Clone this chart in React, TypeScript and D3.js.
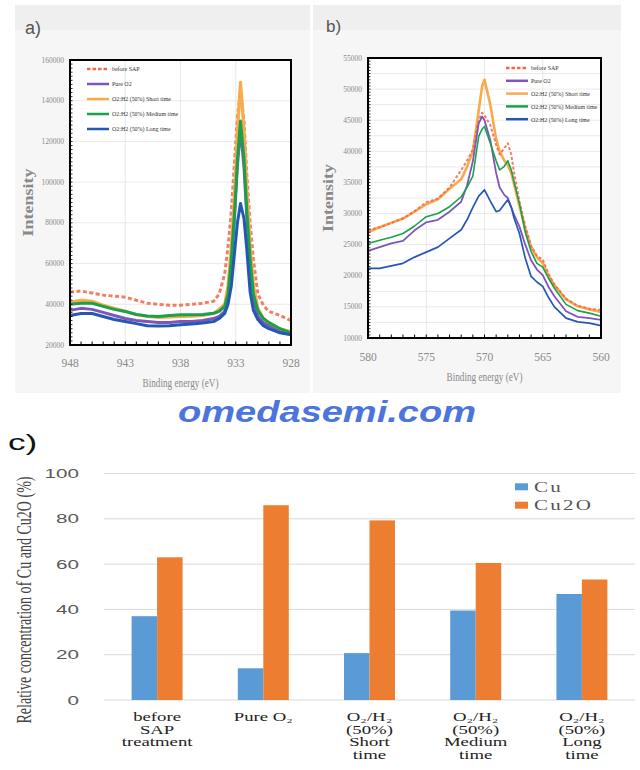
import React from "react";
import * as d3 from "d3";

// ---- panel a : Cu 2p3/2 region (values in thousands of counts) ----
const aEnergy = [948, 947, 946, 945, 944, 943, 942, 941, 940, 939, 938, 937, 936, 935, 934.5, 934, 933.7, 933.4, 933.1, 932.85, 932.57, 932.25, 932, 931.7, 931.4, 931, 930.5, 930, 929, 928];
const aBefore = [46, 46.5, 45.5, 44.5, 44, 43.5, 42, 40.5, 40, 39.5, 39.5, 40, 40.5, 41.5, 45, 55, 68, 86, 111, 132, 145, 130, 104, 80, 62, 45, 39.5, 36.5, 34.5, 32];
const aPureO2 = [37, 38, 37.5, 36, 34.5, 33, 32, 31.5, 31, 31, 31.5, 31.5, 32, 33, 34, 36.5, 43, 60, 84, 108, 126, 107, 83, 58, 42, 34, 31, 29.5, 27, 25.5];
const aShort = [41, 42, 41.5, 39.5, 38, 36.5, 35, 34, 33.5, 33.8, 34, 34.2, 34.5, 35.5, 37.5, 40, 49, 68, 95, 125, 149, 125, 96, 68, 49, 38, 33, 31, 28, 26.5];
const aMedium = [40, 40.5, 40.5, 39, 37.5, 36.5, 35, 34.2, 34, 34.5, 34.8, 34.8, 35, 35.6, 36.5, 39, 45, 62, 86, 111, 130, 111, 86, 62, 45, 37, 33, 31, 28, 26];
const aLong = [34.5, 35.5, 35.5, 34, 32.5, 31.5, 30.5, 29.5, 29.3, 29.5, 30, 30.3, 30.8, 31.5, 33, 35.5, 40, 49, 66, 80, 89.5, 82, 67, 46, 37, 32.5, 29.5, 28, 26, 25];
const aXTicks = [948, 943, 938, 933, 928];
const aYTicks = [20000, 40000, 60000, 80000, 100000, 120000, 140000, 160000];

// ---- panel b : Cu LMM region (values in thousands of counts) ----
const bEnergy = [580, 579, 578, 577, 576, 575, 574, 573, 572, 571.5, 571, 570.5, 570.2, 570, 569.5, 569, 568.7, 568.3, 568, 567.7, 567.5, 567, 566.5, 566, 565.5, 565, 564.5, 564, 563, 562, 561, 560];
const bBefore = [27.3, 27.8, 28.5, 29.2, 30.4, 31.8, 32.4, 34.2, 37, 38.5, 40.3, 45, 46.2, 45.8, 44.2, 41, 39.5, 40.5, 41.3, 39.5, 37, 32, 28, 24.8, 23.2, 22.6, 20.3, 18.6, 16.3, 15.2, 14.7, 14.5];
const bPureO2 = [24, 24.6, 25.2, 25.6, 27.3, 28.6, 29, 30.3, 31.9, 34.5, 38.4, 44.5, 45.6, 45, 41.8, 36.5, 34.2, 33, 32.5, 31, 30, 27.9, 25, 22.5, 21, 20.1, 18.2, 16.7, 14.3, 13.4, 13.2, 12.9];
const bShort = [27, 27.8, 28.5, 29.2, 30.3, 31.5, 32.3, 34, 35.5, 37.5, 40, 46.5, 50.5, 51.5, 47.5, 42, 40, 38.5, 37.8, 36.5, 35, 31.2, 27.5, 24.6, 23, 22, 20, 18.5, 16.2, 15.1, 14.6, 14.2];
const bMedium = [25.2, 25.7, 26.2, 26.8, 28, 29.5, 30, 31.1, 32.7, 34.2, 36, 42.4, 43.6, 44, 41.3, 38.5, 37, 37.6, 38.5, 37, 35.4, 31.6, 27, 23.9, 22, 21.4, 19.6, 18, 15.4, 14.4, 14, 13.5];
const bLong = [21.2, 21.2, 21.6, 22, 23, 23.8, 24.6, 26, 27.4, 29, 31, 32.8, 33.4, 33.8, 32, 30.3, 30.5, 31.5, 32.2, 31, 29.5, 26.8, 22.8, 19.9, 19, 18.3, 16.5, 15, 13.2, 12.6, 12.4, 12];
const bXTicks = [580, 575, 570, 565, 560];
const bYTicks = [10000, 15000, 20000, 25000, 30000, 35000, 40000, 45000, 50000, 55000];

const seriesNames = ["before SAP", "Pure O2", "O2:H2 (50%) Short time", "O2:H2 (50%) Medium time", "O2:H2 (50%) Long time"];
const seriesColors = ["#f2674a", "#7e55b9", "#f9aa4c", "#18a24c", "#2458b2"];

// ---- panel c : relative concentration ----
const categories = ["before SAP treatment", "Pure O2", "O2/H2 (50%) Short time", "O2/H2 (50%) Medium time", "O2/H2 (50%) Long time"];
const categoryLines = [
  ["before", "SAP", "treatment"],
  ["Pure O₂"],
  ["O₂/H₂", "(50%)", "Short", "time"],
  ["O₂/H₂", "(50%)", "Medium", "time"],
  ["O₂/H₂", "(50%)", "Long", "time"],
];
const components = ["Cu", "Cu2O"];
const cuValues = [37, 14, 20.7, 39.5, 46.8];
const cu2oValues = [63, 86, 79.3, 60.5, 53.2];
const cYTicks = [0, 20, 40, 60, 80, 100];
const barColors = ["#5b9bd5", "#ed7d31"];

const serif = "'Liberation Serif', 'Times New Roman', serif";
const sans = "'Liberation Sans', Arial, sans-serif";

type SpectrumProps = {
  frame: [number, number, number, number];
  plot: { left: number; right: number; top: number; bottom: number };
  tag: string;
  tagPos: [number, number, number];
  energy: number[];
  series: number[][];
  drawOrder: number[];
  xDomain: [number, number];
  yDomain: [number, number];
  xTicks: number[];
  yTicks: number[];
  yGrid: number[];
  xMinor: number[];
  yMinor: number[];
  widths: number[];
  dash: string;
  legend: { x: number; y: number; gap: number };
  xLabelDy: number;
  titleDy: number;
  yTitleX: number;
};

function Spectrum(p: SpectrumProps) {
  const { left, right, top, bottom } = p.plot;
  const x = d3.scaleLinear().domain(p.xDomain).range([left, right]);
  const y = d3.scaleLinear().domain(p.yDomain).range([bottom, top]);
  const line = (vals: number[]) =>
    d3
      .line<number>()
      .x((_, i) => x(p.energy[i]))
      .y((d) => y(d * 1000))(vals) || "";
  const [fx, fy, fw, fh] = p.frame;
  const cx = (left + right) / 2;
  const cy = (top + bottom) / 2;
  return (
    <g>
      <rect x={fx} y={fy} width={fw} height={fh} fill="#f6f6f6" />
      <rect x={fx} y={fy} width={fw} height={25} fill="#efefef" />
      <text x={p.tagPos[0]} y={p.tagPos[1]} fontFamily={sans} fontSize={p.tagPos[2]} fill="#555">
        {p.tag}
      </text>
      <rect x={left} y={top} width={right - left} height={bottom - top} fill="#fff" />
      {p.yGrid.map((v) => (
        <line key={"g" + v} x1={left} x2={right} y1={y(v)} y2={y(v)} stroke="#e4e4e4" strokeWidth={0.8} />
      ))}
      {p.xTicks.slice(1, -1).map((v) => (
        <line key={"v" + v} x1={x(v)} x2={x(v)} y1={top} y2={bottom} stroke="#e2e2e2" strokeWidth={0.8} />
      ))}
      {p.drawOrder.map((k) => (
        <path
          key={k}
          d={line(p.series[k])}
          fill="none"
          stroke={seriesColors[k]}
          strokeWidth={p.widths[k]}
          strokeDasharray={k === 0 ? p.dash : undefined}
          strokeLinejoin="round"
          opacity={k === 0 ? 0.85 : 1}
        />
      ))}
      {p.xMinor.map((v) => (
        <line key={"xm" + v} x1={x(v)} x2={x(v)} y1={bottom} y2={bottom - 3.5} stroke="#000" strokeWidth={1} />
      ))}
      {p.yMinor.map((v) => (
        <line key={"ym" + v} x1={left} x2={left + 2.5} y1={y(v)} y2={y(v)} stroke="#000" strokeWidth={0.8} />
      ))}
      <rect x={left} y={top} width={right - left} height={bottom - top} fill="none" stroke="#000" strokeWidth={2} />
      {p.yTicks.map((v) => (
        <text key={"yl" + v} x={left - 6} y={y(v) + 2.5} textAnchor="end" fontFamily={serif} fontSize={7.5} fill="#8a8a8a">
          {v}
        </text>
      ))}
      {p.xTicks.map((v) => (
        <text key={"xl" + v} x={x(v)} y={bottom + p.xLabelDy} textAnchor="middle" fontFamily={serif} fontSize={11.5} fill="#8a8a8a">
          {v}
        </text>
      ))}
      <text
        x={cx}
        y={bottom + p.titleDy}
        textAnchor="middle"
        fontFamily={serif}
        fontSize={11.5}
        fill="#8a8a8a"
        textLength={76}
        lengthAdjust="spacingAndGlyphs"
      >
        Binding energy (eV)
      </text>
      <text
        transform={`translate(${p.yTitleX},${cy}) rotate(-90)`}
        textAnchor="middle"
        fontFamily={serif}
        fontWeight="bold"
        fontSize={14}
        fill="#8a8a8a"
        textLength={68}
        lengthAdjust="spacingAndGlyphs"
      >
        Intensity
      </text>
      {seriesNames.map((n, k) => {
        const ly = p.legend.y + k * p.legend.gap;
        return (
          <g key={n}>
            <line
              x1={p.legend.x}
              x2={p.legend.x + 22}
              y1={ly}
              y2={ly}
              stroke={seriesColors[k]}
              strokeWidth={2.5}
              strokeDasharray={k === 0 ? "3.5 2" : undefined}
            />
            <text
              transform={`translate(${p.legend.x + 25},${ly + 2.3}) scale(0.85,1)`}
              fontFamily={serif}
              fontSize={7}
              fill="#333"
            >
              {n}
            </text>
          </g>
        );
      })}
    </g>
  );
}

function BarPanel() {
  const x = d3.scaleBand<string>().domain(categories).range([104, 635]).paddingInner(0.52).paddingOuter(0.26);
  const sub = d3.scaleBand<string>().domain(components).range([0, x.bandwidth()]);
  const y = d3.scaleLinear().domain([0, 100]).range([700, 473.5]);
  const values = [cuValues, cu2oValues];
  return (
    <g>
      <text transform="translate(8,450) scale(1.6,1)" fontFamily={sans} fontSize={22} fill="#111">
        c)
      </text>
      {cYTicks.map((v) => (
        <g key={v}>
          <line x1={104} x2={635} y1={y(v)} y2={y(v)} stroke="#d9d9d9" strokeWidth={1} />
          <text transform={`translate(79,${y(v) + 4.5}) scale(1.65,1)`} textAnchor="end" fontFamily={sans} fontSize={12.5} fill="#595959">
            {v}
          </text>
        </g>
      ))}
      {components.map((c, j) =>
        categories.map((cat, i) => (
          <rect
            key={c + cat}
            x={(x(cat) || 0) + (sub(c) || 0)}
            y={y(values[j][i])}
            width={sub.bandwidth()}
            height={y(0) - y(values[j][i])}
            fill={barColors[j]}
          />
        ))
      )}
      {categories.map((cat, i) => {
        const cx = (x(cat) || 0) + x.bandwidth() / 2;
        return categoryLines[i].map((ln, k) => (
          <text
            key={cat + k}
            transform={`translate(${cx},${721 + k * 12.7}) scale(1.5,1)`}
            textAnchor="middle"
            fontFamily={serif}
            fontSize={12.5}
            fill="#222"
          >
            {ln}
          </text>
        ));
      })}
      {components.map((c, j) => (
        <g key={c}>
          <rect x={515} y={483.3 + j * 18.4} width={13} height={7} fill={barColors[j]} />
          <text
            transform={`translate(534,${492 + j * 18.4}) scale(1.5,1)`}
            fontFamily={serif}
            fontSize={14}
            letterSpacing={1.5}
            fill="#555"
          >
            {c}
          </text>
        </g>
      ))}
      <text
        transform="translate(31,600) scale(1.45,1) rotate(-90)"
        textAnchor="middle"
        fontFamily={serif}
        fontSize={14.5}
        fill="#444"
        textLength={247}
        lengthAdjust="spacingAndGlyphs"
      >
        Relative concentration of Cu and Cu2O (%)
      </text>
    </g>
  );
}

export default function App() {
  return (
    <svg width={640} height={770} style={{ position: "absolute", left: 0, top: 0, background: "#fff" }}>
      <Spectrum
        frame={[15, 5, 295, 388]}
        plot={{ left: 70, right: 291, top: 60, bottom: 345 }}
        tag="a)"
        tagPos={[25, 34, 18]}
        energy={aEnergy}
        series={[aBefore, aPureO2, aShort, aMedium, aLong]}
        drawOrder={[0, 1, 2, 3, 4]}
        xDomain={[948, 928]}
        yDomain={[20000, 160000]}
        xTicks={aXTicks}
        yTicks={aYTicks}
        yGrid={aYTicks}
        xMinor={d3.range(928, 949, 1)}
        yMinor={d3.range(20000, 160001, 2000)}
        widths={[3, 3, 3.2, 3, 3]}
        dash="4 2.5"
        legend={{ x: 87, y: 69, gap: 15 }}
        xLabelDy={22}
        titleDy={42}
        yTitleX={33}
      />
      <Spectrum
        frame={[313, 5, 308, 388]}
        plot={{ left: 368, right: 601, top: 58, bottom: 338 }}
        tag="b)"
        tagPos={[326, 32, 17]}
        energy={bEnergy}
        series={[bBefore, bPureO2, bShort, bMedium, bLong]}
        drawOrder={[2, 0, 1, 3, 4]}
        xDomain={[580, 560]}
        yDomain={[10000, 55000]}
        xTicks={bXTicks}
        yTicks={bYTicks}
        yGrid={d3.range(12500, 55000, 2500)}
        xMinor={d3.range(560, 581, 1)}
        yMinor={d3.range(10000, 55001, 500)}
        widths={[2, 1.8, 2.6, 1.6, 1.7]}
        dash="3 2"
        legend={{ x: 506, y: 68, gap: 12.8 }}
        xLabelDy={23}
        titleDy={43}
        yTitleX={333}
      />
      <text
        x={178}
        y={422}
        fontFamily={sans}
        fontWeight="bold"
        fontStyle="italic"
        fontSize={29}
        fill="#4b74dc"
        textLength={298}
        lengthAdjust="spacingAndGlyphs"
      >
        omedasemi.com
      </text>
      <BarPanel />
    </svg>
  );
}
